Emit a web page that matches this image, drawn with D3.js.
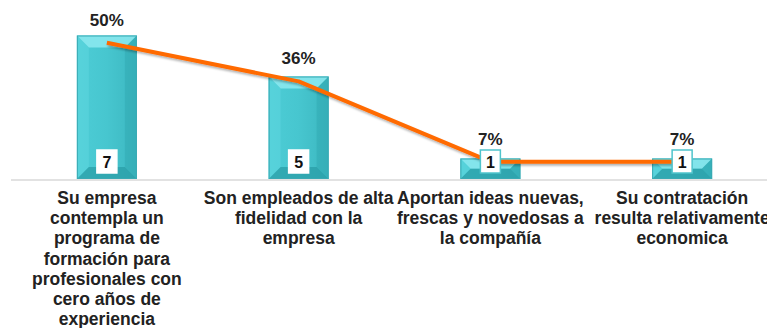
<!DOCTYPE html>
<html>
<head>
<meta charset="utf-8">
<script src="https://cdn.jsdelivr.net/npm/d3@7"></script>
<style>
  html, body { margin: 0; padding: 0; background: #fff; }
  svg { display: block; font-family: "Liberation Sans", Arial, sans-serif; }
</style>
</head>
<body>
<svg id="chart" width="767" height="328"></svg>
<script>
// Categories (line breaks follow the wrapped axis labels)
const categories = [
  "Su empresa\ncontempla un\nprograma de\nformación para\nprofesionales con\ncero años de\nexperiencia",
  "Son empleados de alta\nfidelidad con la\nempresa",
  "Aportan ideas nuevas,\nfrescas y novedosas a\nla compañía",
  "Su contratación\nresulta relativamente\neconomica"
];
// Number of responses per category (bars)
const counts = [7, 5, 1, 1];
// Share of responses per category, in percent (line)
const percents = [50, 36, 7, 7];

const svg = d3.select("#chart");
const W = 767, H = 328;
const base = 179;

const x = d3.scalePoint().domain(d3.range(categories.length)).range([11, 778]).padding(0.5);
const barW = 60;
const yBar = d3.scaleLinear().domain([0, 8]).range([base, 15]);
const yLine = d3.scaleLinear().domain([0, 60]).range([181, 15]);

const defs = svg.append("defs");
const g = defs.append("linearGradient").attr("id", "face").attr("x1", 0).attr("x2", 1).attr("y1", 0).attr("y2", 0);
g.append("stop").attr("offset", "0%").attr("stop-color", "#4dcdd6");
g.append("stop").attr("offset", "50%").attr("stop-color", "#47c6cf");
g.append("stop").attr("offset", "100%").attr("stop-color", "#3cb7c0");

const sh = defs.append("filter").attr("id", "shadow").attr("x", "-10%").attr("y", "-20%").attr("width", "120%").attr("height", "160%");
sh.append("feDropShadow").attr("dx", 1).attr("dy", 2).attr("stdDeviation", 1.2).attr("flood-color", "#000").attr("flood-opacity", 0.3);

// Axis baseline
svg.append("line")
  .attr("x1", 11).attr("x2", W)
  .attr("y1", base + 1).attr("y2", base + 1)
  .attr("stroke", "#d9d9d9").attr("stroke-width", 1.5);

// Bevelled bars
const bars = svg.append("g").selectAll("g").data(counts).join("g");
bars.each(function (d, i) {
  const sel = d3.select(this);
  const x0 = x(i) - barW / 2, x1 = x(i) + barW / 2;
  const y0 = yBar(d), y1 = yBar(0);
  const b = Math.min(12, (y1 - y0) / 2);
  sel.append("rect").attr("x", x0).attr("y", y0).attr("width", barW).attr("height", y1 - y0)
    .attr("fill", "url(#face)");
  const poly = (pts, fill, op) => sel.append("polygon")
    .attr("points", pts.map(p => p.join(",")).join(" "))
    .attr("fill", fill).attr("opacity", op);
  // top facet
  poly([[x0, y0], [x1, y0], [x1 - b, y0 + b], [x0 + b, y0 + b]], "#8ae8ee", 0.9);
  // left facet
  poly([[x0, y0], [x0 + b, y0 + b], [x0 + b, y1 - b], [x0, y1]], "#5fd8df", 0.5);
  // right facet
  poly([[x1, y0], [x1, y1], [x1 - b, y1 - b], [x1 - b, y0 + b]], "#2fa6af", 0.45);
  // bottom facet
  poly([[x0, y1], [x0 + b, y1 - b], [x1 - b, y1 - b], [x1, y1]], "#2a9ea7", 0.75);
  sel.append("rect").attr("x", x0 + 0.5).attr("y", y0 + 0.5).attr("width", barW - 1).attr("height", y1 - y0 - 1)
    .attr("fill", "none").attr("stroke", "#39aab3").attr("stroke-width", 1);
});

// Percentage line
const line = d3.line()
  .x((d, i) => x(i))
  .y(d => yLine(d));
svg.append("path")
  .datum(percents)
  .attr("d", line)
  .attr("fill", "none")
  .attr("stroke", "#ff6a00")
  .attr("stroke-width", 4)
  .attr("stroke-linejoin", "round")
  .attr("filter", "url(#shadow)");

// Count labels in boxes near the bar base
const boxes = svg.append("g").selectAll("g").data(counts).join("g");
boxes.append("rect")
  .attr("x", (d, i) => x(i) - 10).attr("y", yBar(0) - 29)
  .attr("width", 20).attr("height", 23)
  .attr("fill", "#fff")
  .attr("stroke", d => yBar(d) > yBar(0) - 29 ? "#4fc4cc" : "#ffffff")
  .attr("stroke-width", 1.5);
boxes.append("text")
  .attr("x", (d, i) => x(i)).attr("y", yBar(0) - 11.5)
  .attr("text-anchor", "middle")
  .attr("font-size", 16).attr("font-weight", "bold").attr("fill", "#111")
  .text(d => d);

// Percentage labels above the line points
svg.append("g").selectAll("text").data(percents).join("text")
  .attr("x", (d, i) => x(i))
  .attr("y", d => yLine(d) - 17)
  .attr("text-anchor", "middle")
  .attr("font-size", 17).attr("font-weight", "bold").attr("fill", "#222")
  .text(d => d + "%");

// Category labels
const cat = svg.append("g").selectAll("text").data(categories).join("text")
  .attr("x", (d, i) => x(i))
  .attr("y", 204)
  .attr("text-anchor", "middle")
  .attr("font-size", 17.5).attr("font-weight", "bold").attr("fill", "#222");
cat.selectAll("tspan").data(d => d.split("\n")).join("tspan")
  .attr("x", function () { return d3.select(this.parentNode).attr("x"); })
  .attr("dy", (d, j) => j === 0 ? 0 : 20.2)
  .text(d => d);
</script>
</body>
</html>
